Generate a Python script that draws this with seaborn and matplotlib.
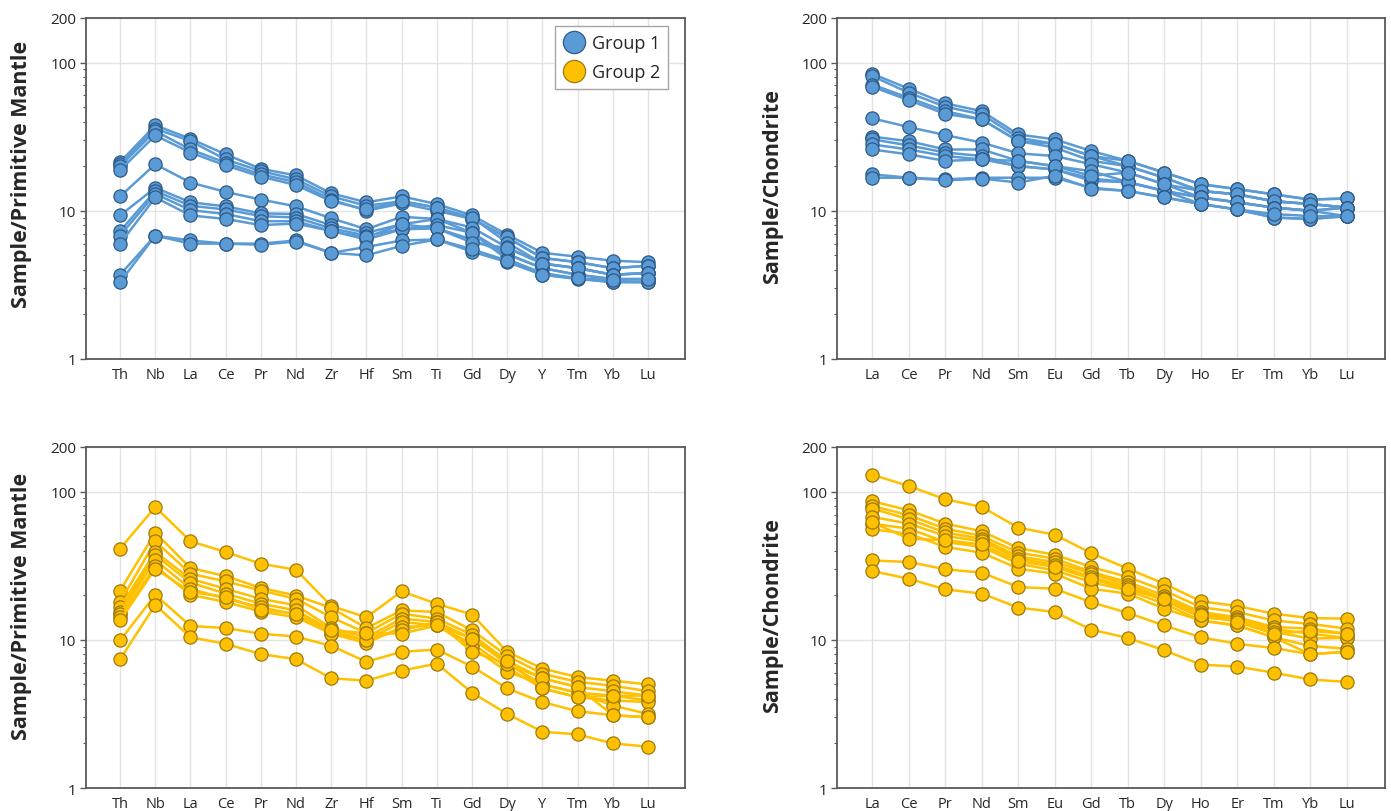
import numpy as np
import pandas as pd
import matplotlib
matplotlib.use('Agg')
import matplotlib.pyplot as plt
from matplotlib.lines import Line2D
from matplotlib.ticker import LogLocator, NullFormatter
import seaborn as sns

# element order on the x axes
pm_elements = ['Th', 'Nb', 'La', 'Ce', 'Pr', 'Nd', 'Zr', 'Hf', 'Sm', 'Ti', 'Gd', 'Dy', 'Y', 'Tm', 'Yb', 'Lu']
ree_elements = ['La', 'Ce', 'Pr', 'Nd', 'Sm', 'Eu', 'Gd', 'Tb', 'Dy', 'Ho', 'Er', 'Tm', 'Yb', 'Lu']

# Group 1, primitive mantle normalised (one row per sample)
g1_pm = [
    [21.3, 37.7, 30.6, 24.0, 19.2, 17.3, 13.1, 11.4, 12.5, 11.1, 9.3, 6.9, 5.2, 4.9, 4.6, 4.5],
    [20.6, 35.8, 29.5, 22.2, 18.5, 16.3, 12.5, 10.8, 11.6, 10.5, 8.8, 6.6, 4.8, 4.5, 4.1, 4.25],
    [20.0, 34.5, 25.9, 21.1, 17.6, 15.6, 11.9, 10.0, 11.2, 10.0, 8.8, 6.6, 4.8, 4.5, 4.1, 4.25],
    [18.8, 32.2, 24.7, 20.2, 17.0, 14.9, 11.6, 10.2, 11.6, 10.5, 9.0, 6.1, 4.4, 4.1, 3.7, 3.8],
    [12.5, 20.6, 15.5, 13.4, 11.9, 10.7, 8.9, 7.5, 9.1, 8.8, 7.7, 5.65, 4.4, 4.1, 3.7, 3.8],
    [9.3, 14.3, 11.4, 10.7, 9.6, 9.5, 8.0, 7.1, 8.1, 8.8, 7.1, 5.1, 4.1, 3.7, 3.46, 3.46],
    [7.3, 13.6, 10.8, 10.2, 9.2, 9.0, 7.6, 6.8, 7.5, 7.6, 6.4, 5.1, 4.1, 3.7, 3.46, 3.46],
    [6.8, 13.0, 10.1, 9.5, 8.5, 8.5, 7.3, 6.4, 7.5, 8.0, 7.1, 4.7, 3.8, 3.5, 3.3, 3.3],
    [6.0, 12.3, 9.3, 8.8, 8.0, 8.2, 7.3, 6.6, 8.1, 7.6, 6.1, 5.6, 4.4, 4.1, 3.7, 3.8],
    [3.7, 6.8, 6.3, 6.0, 6.0, 6.3, 5.2, 5.7, 6.3, 6.4, 5.3, 4.5, 3.7, 3.46, 3.3, 3.3],
    [3.3, 6.8, 6.0, 6.0, 5.9, 6.2, 5.2, 5.0, 5.8, 6.4, 5.5, 4.6, 3.7, 3.5, 3.4, 3.46],
]

# Group 1, chondrite normalised
g1_ch = [
    [84, 66.5, 53, 47, 32.7, 30.3, 25.3, 21.7, 18.1, 15.1, 14.0, 12.9, 11.9, 12.1],
    [81, 62.5, 50.3, 44.7, 31.1, 28.3, 23.4, 20.0, 16.7, 13.6, 12.9, 11.6, 11.1, 10.5],
    [71, 57.8, 47, 41.3, 29.5, 26.7, 21.7, 20.0, 16.7, 13.6, 12.9, 11.6, 11.1, 10.5],
    [68.6, 55.7, 45, 41.3, 29.5, 28.3, 23.4, 21.7, 18.1, 15.1, 14.0, 12.9, 11.9, 12.1],
    [42, 36.7, 32.4, 28.8, 24.4, 23.4, 20.6, 18.1, 15.1, 13.6, 12.9, 11.6, 11.1, 10.5],
    [31.6, 29.5, 25.9, 25.9, 21.7, 20.0, 18.5, 15.6, 13.6, 12.3, 11.4, 10.5, 10.0, 10.5],
    [30.3, 27.6, 24.7, 23.4, 20.0, 19.0, 16.5, 15.6, 13.6, 12.3, 11.4, 10.5, 10.0, 9.2],
    [28.0, 25.9, 23.4, 22.2, 20.0, 19.0, 15.9, 15.6, 13.6, 11.1, 10.2, 9.0, 8.8, 9.2],
    [25.9, 24.0, 21.7, 22.2, 21.7, 20.0, 17.2, 18.1, 15.1, 12.3, 11.4, 10.5, 10.0, 10.5],
    [17.6, 16.7, 16.3, 16.7, 16.7, 16.7, 14.3, 13.6, 12.3, 11.1, 10.2, 9.0, 8.8, 9.2],
    [16.7, 16.7, 16.0, 16.5, 15.5, 17.2, 14.1, 13.6, 12.3, 11.1, 10.2, 9.5, 9.2, 9.2],
]

# Group 2, primitive mantle normalised
g2_pm = [
    [41.2, 78.8, 46.2, 39.1, 32.6, 29.7, 16.9, 14.2, 21.2, 17.5, 14.8, 8.3, 6.4, 5.6, 5.3, 5.0],
    [21.5, 52.8, 30.5, 26.9, 22.4, 19.9, 16.4, 12.0, 15.8, 15.4, 11.6, 7.8, 5.9, 5.2, 4.9, 4.5],
    [18.0, 46.2, 27.9, 24.8, 21.5, 18.9, 14.2, 11.1, 15.0, 13.9, 10.8, 7.2, 5.5, 4.8, 4.5, 4.2],
    [16.6, 39.1, 25.8, 22.1, 18.9, 17.1, 12.0, 10.4, 13.9, 13.2, 10.2, 6.9, 5.0, 4.4, 4.2, 3.9],
    [15.5, 37.2, 24.3, 20.5, 17.5, 15.8, 11.6, 9.9, 13.2, 12.5, 9.4, 6.5, 4.7, 4.1, 3.9, 3.8],
    [15.0, 34.4, 22.1, 18.9, 16.6, 14.8, 11.0, 9.5, 12.2, 12.5, 8.9, 6.1, 5.0, 4.4, 3.6, 3.16],
    [14.2, 31.5, 20.1, 18.0, 15.5, 14.2, 11.0, 10.0, 11.6, 13.2, 8.3, 6.9, 5.5, 4.8, 3.1, 3.0],
    [13.5, 30.2, 21.0, 19.5, 16.0, 15.0, 11.6, 11.1, 11.0, 12.5, 10.2, 7.2, 4.7, 4.1, 4.2, 4.2],
    [9.9, 20.1, 12.4, 12.0, 11.0, 10.5, 9.1, 7.1, 8.3, 8.6, 6.6, 4.7, 3.8, 3.3, 3.1, 3.0],
    [7.4, 17.2, 10.4, 9.4, 8.0, 7.4, 5.5, 5.3, 6.2, 6.9, 4.4, 3.16, 2.4, 2.3, 2.0, 1.9],
]

# Group 2, chondrite normalised
g2_ch = [
    [130, 109, 88.7, 78.8, 57.1, 51.2, 38.4, 30.2, 23.9, 18.2, 16.9, 15.0, 14.0, 13.9],
    [86, 74.8, 60.8, 54, 41.6, 37.5, 31, 26.5, 21.5, 16.6, 15.4, 13.5, 12.8, 11.9],
    [80, 69.2, 56.2, 50.2, 38.7, 35.3, 28.7, 24.5, 19.9, 15.4, 14.2, 12.2, 11.9, 11.0],
    [76.8, 65, 53, 48, 36.5, 33.5, 27.9, 23.5, 19.0, 15.0, 13.8, 11.8, 11.0, 10.3],
    [67.5, 60.8, 50.2, 46.2, 35.3, 32.1, 26.5, 22.7, 18.4, 14.2, 13.5, 11.3, 10.2, 10.3],
    [60.8, 56.2, 45.7, 42.3, 32.6, 29.4, 24.5, 21.5, 17.5, 13.5, 12.5, 10.4, 9.1, 8.7],
    [55.6, 52.0, 42.3, 38.7, 30.2, 27.9, 22.1, 20.5, 16.2, 13.5, 12.5, 10.4, 8.0, 8.3],
    [62, 48.1, 47, 44, 34, 31, 25.8, 22, 18.8, 14.8, 13.2, 11.0, 11.5, 11.0],
    [34.3, 33.5, 29.9, 28.4, 22.7, 22.1, 17.9, 15.2, 12.5, 10.4, 9.4, 8.8, 8.0, 8.3],
    [29.1, 25.8, 21.9, 20.5, 16.5, 15.4, 11.7, 10.3, 8.5, 6.8, 6.6, 6.0, 5.4, 5.2],
]

group_names = ['Group 1', 'Group 2']
blue_line, blue_face, blue_edge = '#5b9bd5', '#5b9bd5', '#2d5a88'
gold_line, gold_face, gold_edge = '#ffc000', '#ffc000', '#9c7a10'

sns.set_style('white')
plt.rcParams['font.family'] = ['Open Sans', 'DejaVu Sans']


def to_long(rows, elements):
    recs = []
    for i, row in enumerate(rows):
        for el, v in zip(elements, row):
            recs.append({'sample': i, 'element': el, 'value': v})
    return pd.DataFrame(recs)


def spider(ax, rows, elements, line_c, face_c, edge_c, ylabel, label_y):
    df = to_long(rows, elements)
    sns.lineplot(data=df, x='element', y='value', units='sample', estimator=None,
                 sort=False, color=line_c, lw=1.8, marker='o', markersize=9.5,
                 markerfacecolor=face_c, markeredgecolor=edge_c, markeredgewidth=0.9,
                 legend=False, ax=ax)
    ax.set_yscale('log')
    ax.set_ylim(1, 200)
    ax.set_xlim(-0.97, len(elements) - 1 + 1.05)
    ax.set_yticks([1, 10, 100, 200])
    ax.set_yticklabels(['1', '10', '100', '200'])
    ax.yaxis.set_minor_locator(LogLocator(base=10, subs=np.arange(2, 10)))
    ax.yaxis.set_minor_formatter(NullFormatter())
    ax.tick_params(axis='y', which='major', left=True, length=4, width=1, color='#595959',
                   labelsize=11, pad=3, labelcolor='#262626')
    ax.tick_params(axis='y', which='minor', left=True, length=2.5, width=0.8, color='#595959')
    ax.tick_params(axis='x', length=0, labelsize=10.5, pad=6, labelcolor='#262626')
    ax.grid(axis='x', color='#e3e3e3', lw=1)
    ax.grid(axis='y', which='major', color='#e3e3e3', lw=1)
    ax.set_axisbelow(True)
    for s in ax.spines.values():
        s.set_color('#595959')
        s.set_linewidth(1.3)
        s.set_visible(True)
    ax.set_xlabel('')
    ax.set_ylabel(ylabel, fontsize=15.5, fontweight='bold', color='#262626')
    ax.yaxis.set_label_coords(label_y[0], label_y[1])


fig = plt.figure(figsize=(13.91, 8.12), dpi=100)
ax1 = fig.add_axes([0.0618, 0.5567, 0.4306, 0.42])
ax2 = fig.add_axes([0.6017, 0.5567, 0.394, 0.42])
ax3 = fig.add_axes([0.0618, 0.0283, 0.4306, 0.42])
ax4 = fig.add_axes([0.6017, 0.0283, 0.394, 0.42])

spider(ax1, g1_pm, pm_elements, blue_line, blue_face, blue_edge, 'Sample/Primitive Mantle', (-0.09, 0.545))
spider(ax2, g1_ch, ree_elements, blue_line, blue_face, blue_edge, 'Sample/Chondrite', (-0.098, 0.507))
spider(ax3, g2_pm, pm_elements, gold_line, gold_face, gold_edge, 'Sample/Primitive Mantle', (-0.09, 0.534))
spider(ax4, g2_ch, ree_elements, gold_line, gold_face, gold_edge, 'Sample/Chondrite', (-0.098, 0.51))

handles = [
    Line2D([], [], ls='none', marker='o', markersize=16, markerfacecolor=blue_face,
           markeredgecolor=blue_edge, markeredgewidth=0.9, label=group_names[0]),
    Line2D([], [], ls='none', marker='o', markersize=16, markerfacecolor=gold_face,
           markeredgecolor=gold_edge, markeredgewidth=0.9, label=group_names[1]),
]
leg = ax1.legend(handles=handles, loc='upper right', bbox_to_anchor=(0.9716, 0.9765),
                 borderaxespad=0, fancybox=False, framealpha=1, edgecolor='#a6a6a6',
                 fontsize=13, handletextpad=0.35, labelspacing=0.6, borderpad=0.45,
                 handlelength=1.2)
leg.get_frame().set_linewidth(1)
for t in leg.get_texts():
    t.set_color('#262626')

fig.savefig('out.png', dpi=100)
